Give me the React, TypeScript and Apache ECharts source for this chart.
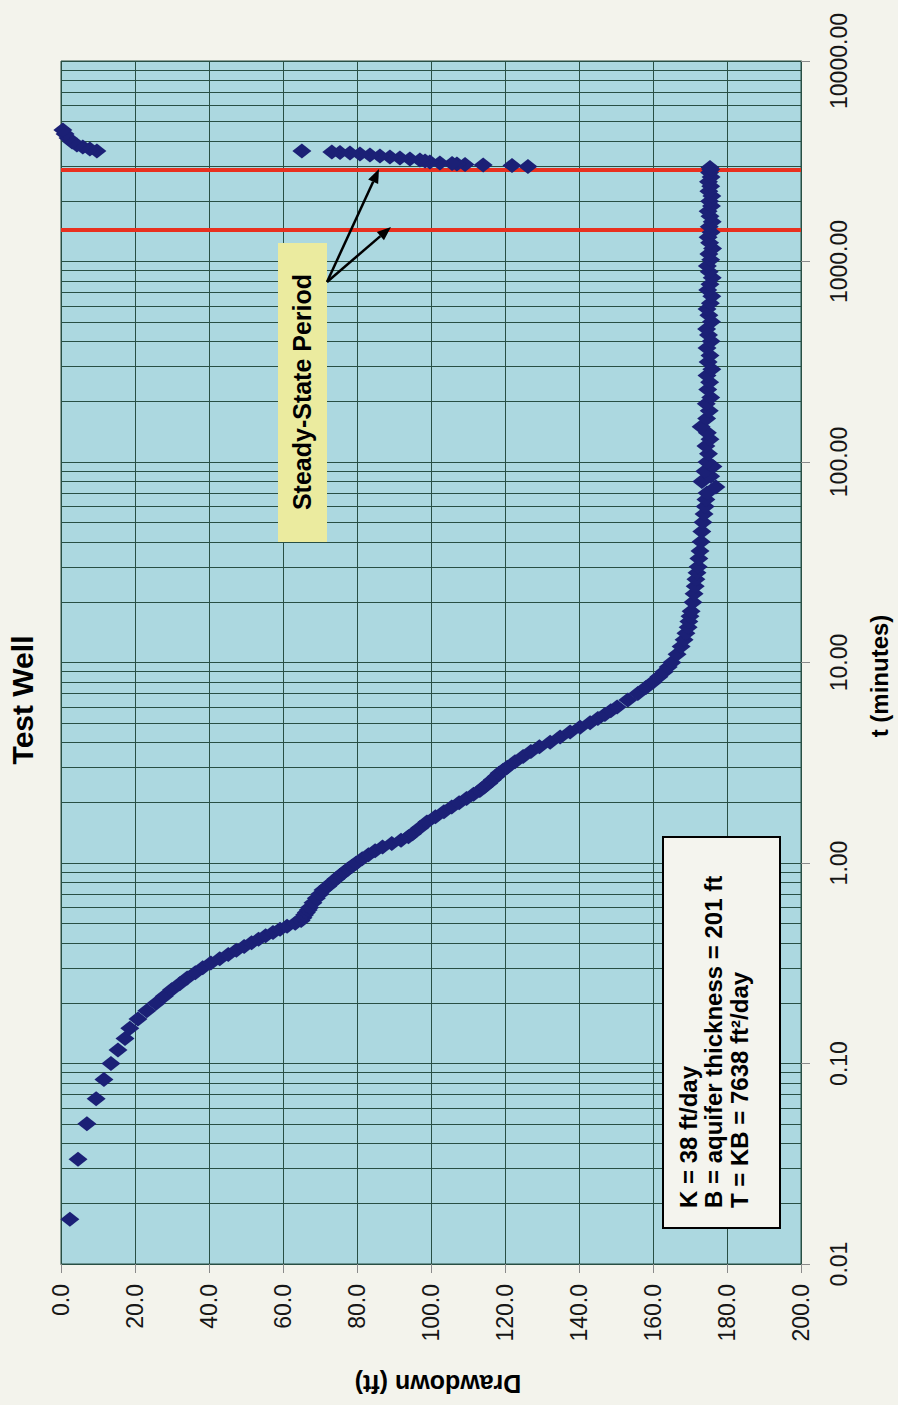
import React, { useEffect, useRef } from "react";
import * as echarts from "echarts";

// ---------- data ----------
const drawdownTickStep = 20;
const decadeStarts = [0.01, 0.1, 1, 10, 100, 1000];
const minorMultipliers = [2, 3, 4, 5, 6, 7, 8, 9];
const steadyStateBounds = [1440, 2880];

// pumping phase: time (minutes) and drawdown (ft)
const pumpT = [
  0.0167, 0.0333, 0.05, 0.0667, 0.0833, 0.1, 0.1167, 0.1333, 0.15, 0.1667, 0.1833, 0.2,
  0.2167, 0.2333, 0.25, 0.2667, 0.2833, 0.3, 0.3167, 0.3333, 0.35, 0.3667, 0.3833, 0.4,
  0.4167, 0.4333, 0.45, 0.4667, 0.4833, 0.5, 0.5167, 0.5333, 0.55, 0.5667, 0.5833, 0.6,
  0.6333, 0.6667, 0.7, 0.7333, 0.7667, 0.8, 0.8333, 0.8667, 0.9, 0.9333, 0.9667, 1.0,
  1.05, 1.1, 1.15, 1.2, 1.25, 1.3, 1.35, 1.4, 1.5, 1.6, 1.7, 1.8, 1.9, 2.0,
  2.1, 2.2, 2.3, 2.4, 2.5, 2.6, 2.7, 2.8, 2.9, 3.0, 3.2, 3.4, 3.6, 3.8, 4.0,
  4.25, 4.5, 4.75, 5.0, 5.25, 5.5, 5.75, 6.0, 6.5, 7.0, 7.5, 8.0, 8.5, 9.0, 9.5, 10,
  11, 12, 13, 14, 15, 16, 17, 18, 20, 22, 24, 26, 28, 30, 33, 36, 40, 45, 50, 55, 60,
  65, 70, 75, 80, 85, 90, 95, 100, 110, 120, 130, 140, 150, 165, 180, 195, 210, 230,
  250, 270, 290, 315, 340, 370, 400, 430, 460, 500, 540, 580, 620, 670, 720, 770, 830,
  890, 950, 1020, 1090, 1160, 1240, 1320, 1400, 1490, 1580, 1680, 1780, 1890, 2000,
  2120, 2240, 2370, 2500, 2640, 2780, 2880, 2940,
];
const pumpDD = [
  2.4, 4.6, 7.0, 9.5, 11.6, 13.5, 15.4, 17.3, 18.6, 20.8, 23.2, 25.7,
  27.9, 29.9, 32.1, 34.1, 36.3, 38.3, 40.5, 42.9, 45.2, 47.4, 49.5, 51.5,
  53.4, 55.3, 57.3, 59.2, 61.1, 63.3, 64.9, 65.4, 65.8, 66.3, 66.8, 67.2,
  68.1, 69.0, 70.0, 70.8, 72.1, 73.2, 74.3, 75.4, 76.5, 77.6, 78.7, 79.8,
  81.4, 83.1, 84.9, 86.9, 89.4, 91.9, 93.9, 95.0, 97.0, 98.9, 101.2, 103.5, 105.6, 107.6,
  109.6, 111.5, 113.2, 114.4, 115.6, 116.6, 117.6, 118.4, 119.5, 120.6, 122.7, 124.9, 127.0, 129.3, 132.2,
  134.9, 137.6, 140.3, 143.0, 145.1, 147.0, 148.6, 150.3, 153.2, 155.9, 158.1, 160.0, 161.6, 163.0, 164.1, 165.1,
  166.5, 167.6, 168.4, 168.9, 169.5, 169.7, 170.0, 170.3, 170.8, 171.1, 171.4, 171.6, 171.9, 172.2, 172.4, 172.7, 173.0, 173.2, 173.5, 173.8, 174.1,
  174.3, 174.6, 177.0, 173.2, 175.6, 174.0, 176.2, 174.6, 175.0, 174.3, 175.4, 174.7, 173.0, 174.5, 175.2, 174.4, 175.6, 174.8,
  175.3, 174.6, 175.9, 174.9, 175.4, 174.6, 175.7, 175.0, 174.5, 175.8, 175.1, 174.6, 175.5, 175.9, 174.8, 175.4, 176.0,
  175.2, 174.7, 175.6, 175.1, 176.1, 175.3, 174.9, 175.7, 175.2, 176.0, 175.4, 174.9, 175.8, 175.3,
  175.9, 175.1, 175.6, 175.0, 175.7, 175.3, 175.6, 175.4,
];

// recovery phase
const recT = [2978, 3013, 3030, 3048, 3065, 3083, 3101, 3137, 3173, 3209, 3246, 3284, 3322, 3361, 3400, 3440, 3479, 3499, 3519, 3560];
const recDD = [126.2, 121.9, 114.1, 109.2, 107.0, 105.7, 102.4, 99.7, 98.4, 97.0, 94.3, 91.6, 88.9, 86.2, 83.5, 80.8, 78.1, 75.4, 73.2, 65.1];
const rec2T = [3557, 3640, 3725, 3811, 3944, 4130, 4324, 4529];
const rec2DD = [9.7, 7.8, 5.9, 4.3, 3.0, 1.9, 1.1, 0.5];

const infoLines = [
  "K = 38 ft/day",
  "B = aquifer thickness = 201 ft",
  "T = KB = 7638 ft\u00B2/day",
];

// ---------- styles ----------
const FONT = "'Liberation Sans', Arial, Helvetica, sans-serif";
const GRID_COLOR = "#284f44";
const MARKER_COLOR = "#1b2076";
const MARKER_SIZE = [19, 15];

function arrow(x1: number, y1: number, x2: number, y2: number) {
  const dx = x2 - x1;
  const dy = y2 - y1;
  const L = Math.hypot(dx, dy);
  const ux = dx / L;
  const uy = dy / L;
  const hl = 14;
  const hw = 5.5;
  const bx = x2 - ux * hl;
  const by = y2 - uy * hl;
  return [
    { type: "line", z: 100, shape: { x1, y1, x2: bx, y2: by }, style: { stroke: "#000", lineWidth: 2.5 } },
    {
      type: "polygon",
      z: 100,
      shape: { points: [[x2, y2], [bx - uy * hw, by + ux * hw], [bx + uy * hw, by - ux * hw]] },
      style: { fill: "#000" },
    },
  ];
}

export default function App() {
  const ref = useRef<HTMLDivElement>(null);

  useEffect(() => {
    if (!ref.current) return;
    const chart = echarts.init(ref.current, undefined, { renderer: "svg" });

    const minorLines = decadeStarts.flatMap((d) => minorMultipliers.map((m) => m * d));

    const scatterBase = {
      type: "scatter",
      z: 5,
      symbol: "diamond",
      symbolSize: MARKER_SIZE,
      itemStyle: { color: MARKER_COLOR, opacity: 1 },
    };

    const option = {
      animation: false,
      backgroundColor: "#f3f3ec",
      grid: {
        left: 61,
        top: 61,
        width: 740,
        height: 1203,
        show: true,
        backgroundColor: "#acd8e0",
        borderColor: GRID_COLOR,
        borderWidth: 1,
      },
      xAxis: {
        type: "value",
        min: 0,
        max: 200,
        interval: drawdownTickStep,
        position: "bottom",
        axisLine: { show: true, onZero: false, lineStyle: { color: GRID_COLOR, width: 1 } },
        axisTick: { show: true, length: 9, lineStyle: { color: "#8a8a8a" } },
        axisLabel: {
          rotate: 90,
          margin: 20,
          fontSize: 23,
          color: "#161616",
          fontFamily: FONT,
          formatter: (v: number) => v.toFixed(1),
        },
        splitLine: { show: true, lineStyle: { color: GRID_COLOR, width: 1 } },
      },
      yAxis: {
        type: "log",
        logBase: 10,
        min: 0.01,
        max: 10000,
        splitNumber: 6,
        position: "right",
        axisLine: { show: true, onZero: false, lineStyle: { color: GRID_COLOR, width: 1 } },
        axisTick: { show: true, length: 9, lineStyle: { color: "#8a8a8a" } },
        axisLabel: {
          rotate: 90,
          margin: 26,
          fontSize: 23,
          color: "#161616",
          fontFamily: FONT,
          formatter: (v: number) => Number(v).toFixed(2),
        },
        splitLine: { show: true, lineStyle: { color: GRID_COLOR, width: 1 } },
      },
      series: [
        {
          type: "scatter",
          data: [],
          silent: true,
          markLine: {
            silent: true,
            z: 1,
            symbol: ["none", "none"],
            label: { show: false },
            lineStyle: { color: GRID_COLOR, width: 1, type: "solid" },
            data: minorLines.map((v) => ({ yAxis: v })),
          },
        },
        {
          type: "scatter",
          data: [],
          silent: true,
          markLine: {
            silent: true,
            z: 2,
            symbol: ["none", "none"],
            label: { show: false },
            lineStyle: { color: "#e8301f", width: 4, type: "solid" },
            data: steadyStateBounds.map((v) => ({ yAxis: v })),
          },
        },
        { ...scatterBase, data: pumpT.map((t, i) => [pumpDD[i], t]) },
        { ...scatterBase, data: recT.map((t, i) => [recDD[i], t]) },
        { ...scatterBase, data: rec2T.map((t, i) => [rec2DD[i], t]) },
      ],
      graphic: [
        {
          type: "text",
          x: 22,
          y: 700,
          rotation: Math.PI / 2,
          z: 100,
          style: { text: "Test Well", fontSize: 30, fontWeight: "bold", fontFamily: FONT, fill: "#000", align: "center", verticalAlign: "middle" },
        },
        {
          type: "text",
          x: 438,
          y: 1384,
          rotation: Math.PI,
          z: 100,
          style: { text: "Drawdown (ft)", fontSize: 25, fontWeight: "bold", fontFamily: FONT, fill: "#000", align: "center", verticalAlign: "middle" },
        },
        {
          type: "text",
          x: 879,
          y: 676,
          rotation: Math.PI / 2,
          z: 100,
          style: { text: "t (minutes)", fontSize: 24, fontWeight: "bold", fontFamily: FONT, fill: "#000", align: "center", verticalAlign: "middle" },
        },
        {
          type: "rect",
          z: 99,
          shape: { x: 278, y: 243, width: 49, height: 299 },
          style: { fill: "#ebeb9f" },
        },
        {
          type: "text",
          x: 302,
          y: 392,
          rotation: Math.PI / 2,
          z: 100,
          style: { text: "Steady-State Period", fontSize: 25, fontWeight: "bold", fontFamily: FONT, fill: "#000", align: "center", verticalAlign: "middle" },
        },
        ...arrow(327, 282, 379, 169),
        ...arrow(327, 282, 391, 227),
        {
          type: "rect",
          z: 99,
          shape: { x: 663, y: 837, width: 117, height: 391 },
          style: { fill: "#f4f4ee", stroke: "#000", lineWidth: 2 },
        },
        ...infoLines.map((line, i) => ({
          type: "text",
          x: 688 + i * 25.5,
          y: 1208,
          rotation: Math.PI / 2,
          z: 100,
          style: { text: line, fontSize: 24, fontWeight: "bold", fontFamily: FONT, fill: "#000", align: "left", verticalAlign: "middle" },
        })),
      ],
    };

    chart.setOption(option as any);
    return () => chart.dispose();
  }, []);

  return (
    <div
      ref={ref}
      style={{ position: "absolute", left: 0, top: 0, width: 898, height: 1405 }}
    />
  );
}
